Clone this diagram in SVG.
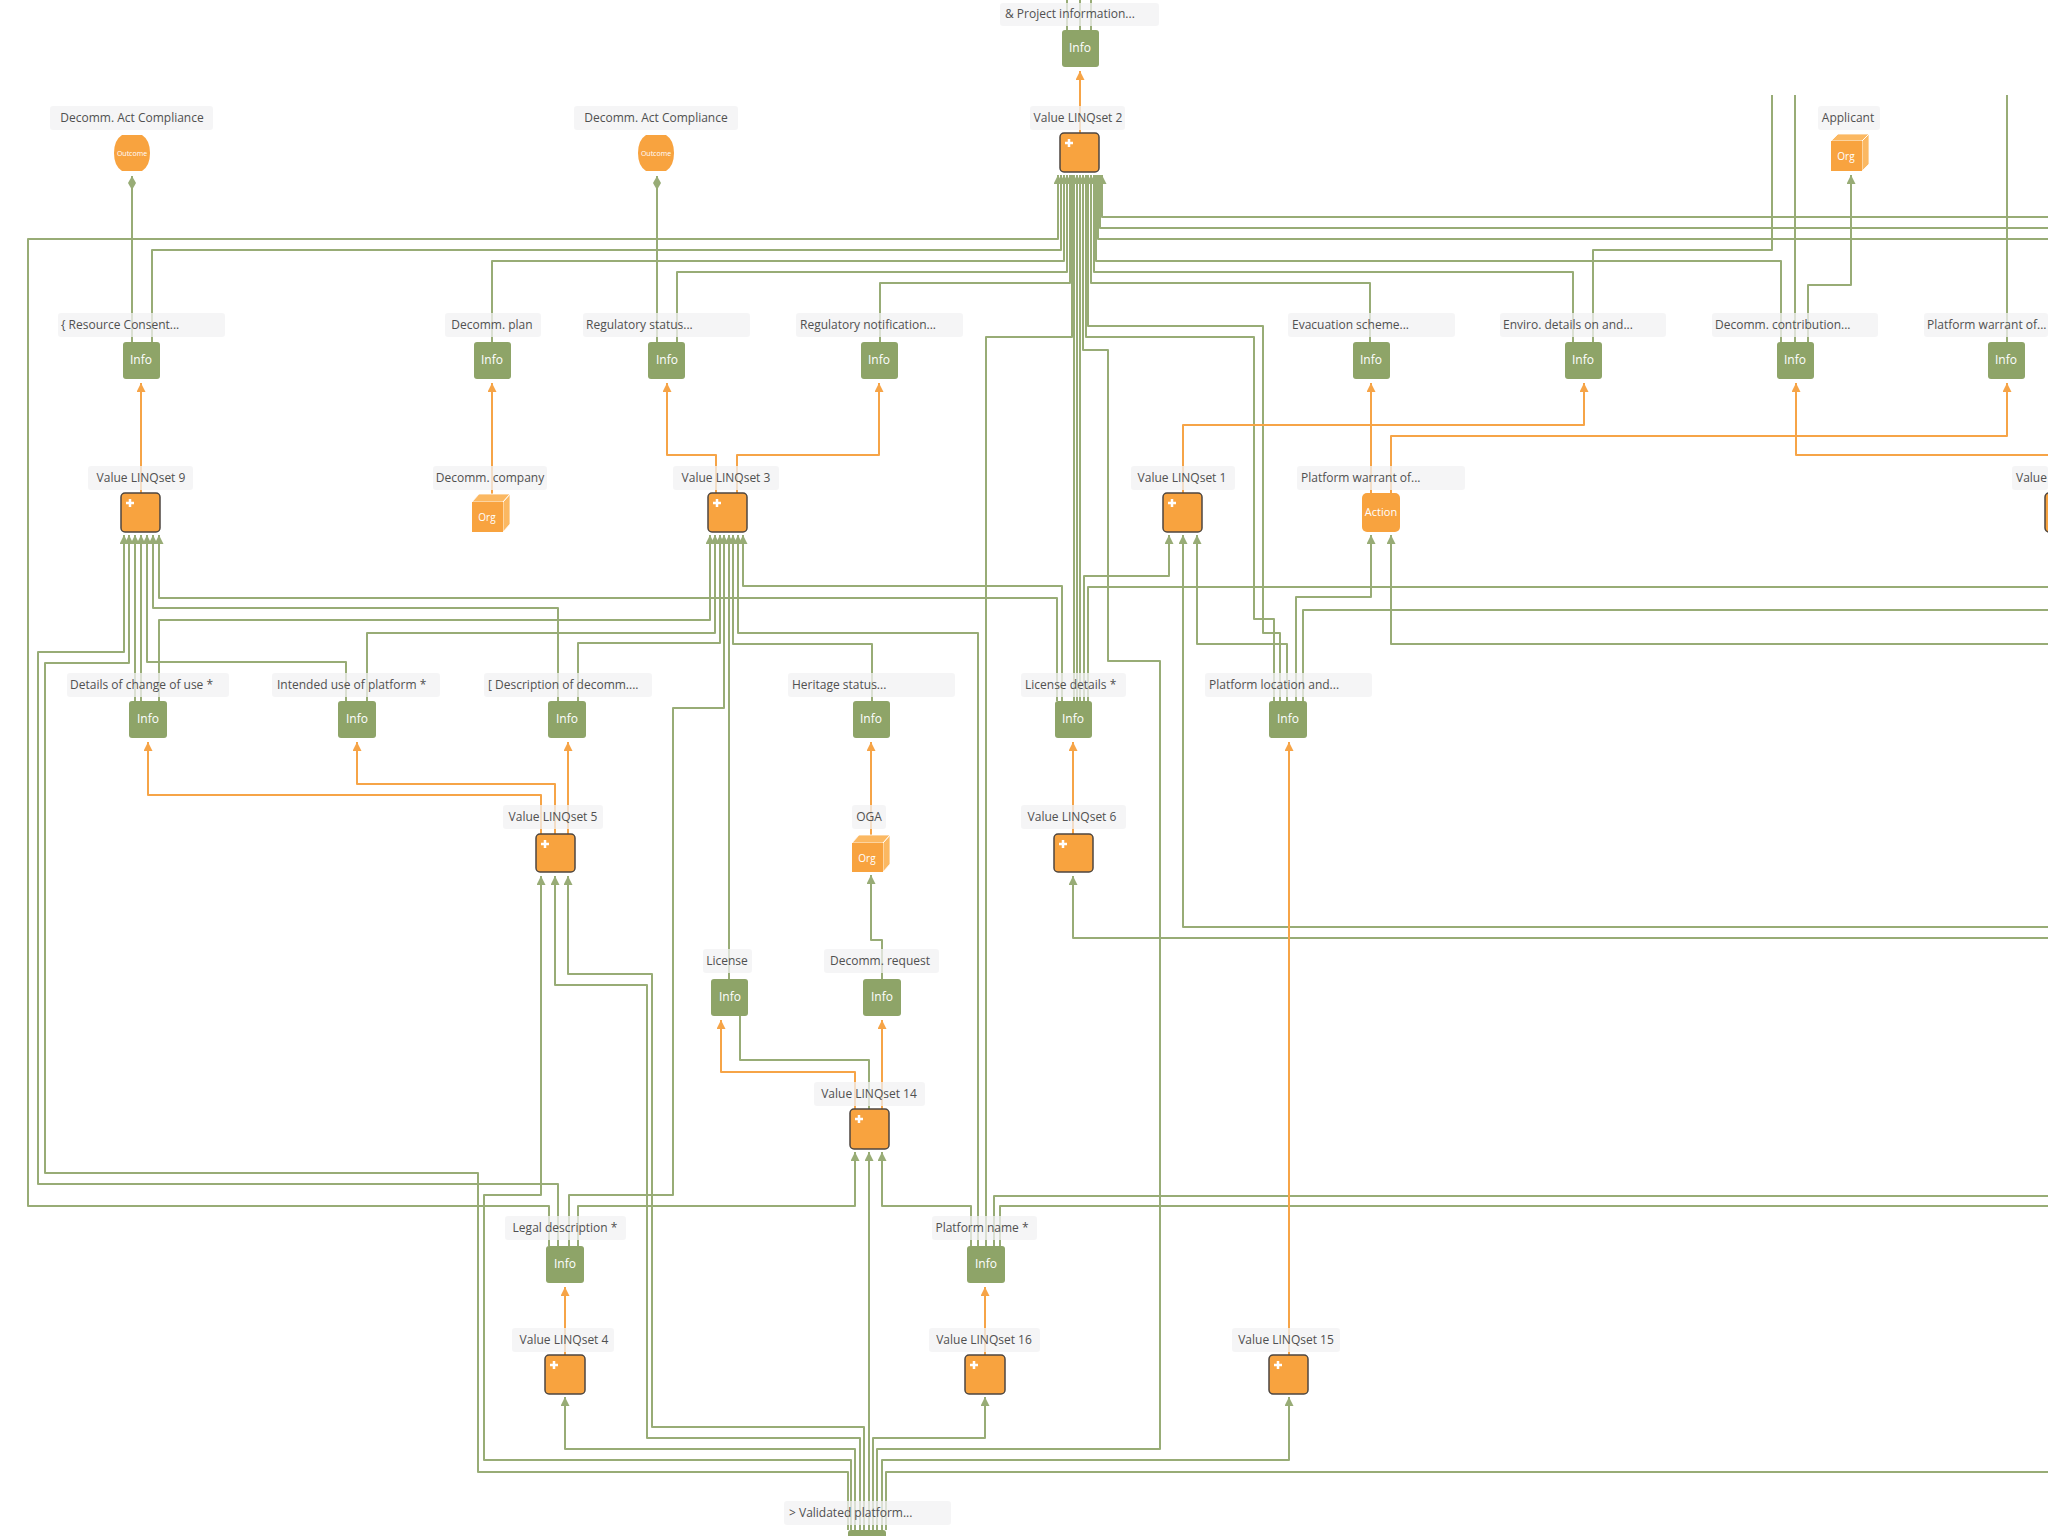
<svg xmlns="http://www.w3.org/2000/svg" width="2048" height="1536" viewBox="0 0 2048 1536">
<defs>
<style>
.g{fill:none;stroke:#98ac76;stroke-width:2;stroke-linejoin:round}
.ga{marker-end:url(#ag)}
.o{fill:none;stroke:#f6a447;stroke-width:2;stroke-linejoin:round;marker-end:url(#ao)}
.gd{marker-end:url(#ad)}
.lb{fill:#f2f2f3;opacity:0.75}
.lt{font-family:"Open Sans","Liberation Sans",sans-serif;font-size:12px;fill:#505050}
.m{text-anchor:middle}
.info{fill:#8ea468}
.it{font-family:"Open Sans","Liberation Sans",sans-serif;font-size:12px;fill:#ffffff;text-anchor:middle}
.lq{fill:#f8a33f;stroke:#4d4640;stroke-width:1.5}
.pl{stroke:#ffffff;stroke-width:2.5;fill:none}
.of{fill:#f8a33f}
.ot{fill:#fbb862;stroke:#ffffff;stroke-width:0.8}
.sm{font-family:"Open Sans","Liberation Sans",sans-serif;fill:#ffffff;text-anchor:middle}
</style>
<marker id="ag" viewBox="0 0 10 10" refX="10" refY="5" markerWidth="9" markerHeight="9" markerUnits="userSpaceOnUse" orient="auto"><path d="M0,0 L10,5 L0,10 z" fill="#98ac76"/></marker>
<marker id="ao" viewBox="0 0 10 10" refX="10" refY="5" markerWidth="9" markerHeight="9" markerUnits="userSpaceOnUse" orient="auto"><path d="M0,0 L10,5 L0,10 z" fill="#f6a447"/></marker>
<marker id="ad" viewBox="0 0 14 8" refX="14" refY="4" markerWidth="14" markerHeight="8" markerUnits="userSpaceOnUse" orient="auto"><path d="M0,4 L7,0 L14,4 L7,8 z" fill="#98ac76"/></marker>
</defs>
<rect width="2048" height="1536" fill="#ffffff"/>

<g id="connectors">
<!-- into Value LINQset 2 -->
<path class="g ga" d="M549,1246 V1206 H28 V239 H1058 V175"/>
<path class="g ga" d="M152,342 V250 H1061 V175"/>
<path class="g ga" d="M492,342 V261 H1064 V175"/>
<path class="g ga" d="M677,342 V272 H1067 V175"/>
<path class="g ga" d="M880,342 V283 H1070 V175"/>
<path class="g ga" d="M986,1246 V337 H1072 V175"/>
<path class="g ga" d="M1074,701 V175"/>
<path class="g ga" d="M1077,701 V175"/>
<path class="g ga" d="M1080,701 V175"/>
<path class="g ga" d="M877,1530 V1449 H1160 V661 H1108 V350 H1083 V175"/>
<path class="g ga" d="M1274,701 V619 H1254 V337 H1086 V175"/>
<path class="g ga" d="M1280,701 V633 H1263 V326 H1088 V175"/>
<path class="g ga" d="M1370,342 V283 H1091 V175"/>
<path class="g ga" d="M1573,342 V272 H1094 V175"/>
<path class="g ga" d="M1781,342 V261 H1096 V175"/>
<path class="g ga" d="M2048,239 H1098 V175"/>
<path class="g ga" d="M2048,228 H1100 V175"/>
<path class="g ga" d="M2048,217 H1102 V175"/>
<!-- into Value LINQset 9 -->
<path class="g ga" d="M558,1246 V1184 H38 V652 H124 V535"/>
<path class="g ga" d="M848,1530 V1472 H478 V1173 H45 V663 H129 V535"/>
<path class="g ga" d="M135,701 V535"/>
<path class="g ga" d="M141,701 V535"/>
<path class="g ga" d="M346,701 V662 H147 V535"/>
<path class="g ga" d="M558,701 V608 H153 V535"/>
<path class="g ga" d="M1057,701 V598 H159 V535"/>
<!-- into Value LINQset 3 -->
<path class="g ga" d="M159,701 V620 H710 V535"/>
<path class="g ga" d="M367,701 V633 H715 V535"/>
<path class="g ga" d="M578,701 V643 H720 V535"/>
<path class="g ga" d="M569,1246 V1195 H673 V708 H724 V535"/>
<path class="g ga" d="M729,979 V535"/>
<path class="g ga" d="M872,701 V644 H733 V535"/>
<path class="g ga" d="M978,1246 V633 H738 V535"/>
<path class="g ga" d="M1062,701 V586 H743 V535"/>
<!-- into Value LINQset 5 -->
<path class="g ga" d="M851,1530 V1460 H484 V1195 H541 V876"/>
<path class="g ga" d="M860,1530 V1438 H647 V985 H555 V876"/>
<path class="g ga" d="M864,1530 V1427 H652 V974 H568 V876"/>
<!-- into Value LINQset 14 -->
<path class="g ga" d="M578,1246 V1206 H855 V1152"/>
<path class="g ga" d="M869,1530 V1152"/>
<path class="g ga" d="M971,1246 V1206 H882 V1152"/>
<path class="g" d="M740,1016 V1060 H869 V1109"/>
<!-- into Value LINQset 4 / 16 / 15 -->
<path class="g ga" d="M855,1530 V1449 H565 V1397"/>
<path class="g ga" d="M873,1530 V1438 H985 V1397"/>
<path class="g ga" d="M882,1530 V1460 H1289 V1397"/>
<!-- into Value LINQset 6 / 1 / Action -->
<path class="g ga" d="M2048,938 H1073 V876"/>
<path class="g ga" d="M1084,701 V576 H1169 V535"/>
<path class="g ga" d="M2048,927 H1183 V535"/>
<path class="g ga" d="M1287,701 V644 H1197 V535"/>
<path class="g ga" d="M1296,701 V597 H1371 V535"/>
<path class="g ga" d="M2048,644 H1391 V535"/>
<!-- into OGA / Applicant -->
<path class="g ga" d="M882,979 V940 H871 V875"/>
<path class="g ga" d="M1808,342 V285 H1851 V175"/>
<!-- leaving the picture -->
<path class="g" d="M1088,701 V587 H2048"/>
<path class="g" d="M1303,701 V610 H2048"/>
<path class="g" d="M994,1246 V1196 H2048"/>
<path class="g" d="M1000,1246 V1206 H2048"/>
<path class="g" d="M886,1530 V1472 H2048"/>
<path class="g" d="M1067,0 V30 M1080,0 V30 M1091,0 V30"/>
<path class="g" d="M1772,95 V250 H1593 V342"/>
<path class="g" d="M1795,95 V342"/>
<path class="g" d="M2007,95 V342"/>
<!-- to outcomes -->
<path class="g gd" d="M132,342 V176"/>
<path class="g gd" d="M657,342 V176"/>
<!-- value links (orange) -->
<path class="o" d="M1080,133 V71"/>
<path class="o" d="M141,493 V383"/>
<path class="o" d="M492,496 V383"/>
<path class="o" d="M716,493 V455 H667 V383"/>
<path class="o" d="M737,493 V455 H879 V383"/>
<path class="o" d="M1183,493 V425 H1584 V383"/>
<path class="o" d="M1371,493 V383"/>
<path class="o" d="M1391,493 V436 H2007 V383"/>
<path class="o" d="M2048,455 H1796 V383"/>
<path class="o" d="M541,834 V795 H148 V742"/>
<path class="o" d="M555,834 V784 H357 V742"/>
<path class="o" d="M568,834 V742"/>
<path class="o" d="M871,838 V742"/>
<path class="o" d="M1073,834 V742"/>
<path class="o" d="M1289,1355 V742"/>
<path class="o" d="M855,1109 V1072 H721 V1020"/>
<path class="o" d="M882,1109 V1020"/>
<path class="o" d="M565,1355 V1287"/>
<path class="o" d="M985,1355 V1287"/>
</g>

<g id="n-project-information">
<rect class="lb" x="1000" y="3" width="159" height="23" rx="3"/>
<text class="lt" x="1005" y="18">&amp; Project information...</text>
<rect class="info" x="1062" y="30" width="37" height="37" rx="3"/>
<text class="it" x="1080" y="52">Info</text>
</g>
<g id="n-value-linqset-2">
<rect class="lb" x="1030" y="106" width="95" height="24" rx="3"/>
<text class="lt m" x="1078" y="122">Value LINQset 2</text>
<rect class="lq" x="1060" y="133" width="39" height="39" rx="4"/>
<path class="pl" d="M1069,139 v8 M1065,143 h8"/>
</g>
<g id="n-outcome-1">
<rect class="lb" x="50" y="106" width="163" height="24" rx="3"/>
<text class="lt m" x="132" y="122">Decomm. Act Compliance</text>
<path class="of" d="M122,135 H142 Q150,140 150,153 Q150,166 142,171 H122 Q114,166 114,153 Q114,140 122,135 Z"/>
<text class="sm" x="132" y="156" font-size="7">Outcome</text>
</g>
<g id="n-outcome-2">
<rect class="lb" x="574" y="106" width="164" height="24" rx="3"/>
<text class="lt m" x="656" y="122">Decomm. Act Compliance</text>
<path class="of" d="M646,135 H666 Q674,140 674,153 Q674,166 666,171 H646 Q638,166 638,153 Q638,140 646,135 Z"/>
<text class="sm" x="656" y="156" font-size="7">Outcome</text>
</g>
<g id="n-applicant">
<rect class="lb" x="1818" y="106" width="62" height="24" rx="3"/>
<text class="lt m" x="1848" y="122">Applicant</text>
<path class="ot" d="M1831,141 L1838,134 L1869,134 L1862,141 Z M1862,141 L1869,134 L1869,164 L1862,171 Z"/>
<rect class="of" x="1831" y="141" width="31" height="30"/>
<text class="sm" x="1846" y="160" font-size="10">Org</text>
</g>

<g id="n-resource-consent">
<rect class="lb" x="58" y="313" width="167" height="24" rx="3"/>
<text class="lt" x="61" y="329">{ Resource Consent...</text>
<rect class="info" x="123" y="342" width="37" height="37" rx="3"/>
<text class="it" x="141" y="364">Info</text>
</g>
<g id="n-decomm-plan">
<rect class="lb" x="445" y="313" width="96" height="24" rx="3"/>
<text class="lt m" x="492" y="329">Decomm. plan</text>
<rect class="info" x="474" y="342" width="37" height="37" rx="3"/>
<text class="it" x="492" y="364">Info</text>
</g>
<g id="n-regulatory-status">
<rect class="lb" x="583" y="313" width="167" height="24" rx="3"/>
<text class="lt" x="586" y="329">Regulatory status...</text>
<rect class="info" x="648" y="342" width="37" height="37" rx="3"/>
<text class="it" x="667" y="364">Info</text>
</g>
<g id="n-regulatory-notification">
<rect class="lb" x="796" y="313" width="167" height="24" rx="3"/>
<text class="lt" x="800" y="329">Regulatory notification...</text>
<rect class="info" x="861" y="342" width="37" height="37" rx="3"/>
<text class="it" x="879" y="364">Info</text>
</g>
<g id="n-evacuation-scheme">
<rect class="lb" x="1288" y="313" width="167" height="24" rx="3"/>
<text class="lt" x="1292" y="329">Evacuation scheme...</text>
<rect class="info" x="1353" y="342" width="37" height="37" rx="3"/>
<text class="it" x="1371" y="364">Info</text>
</g>
<g id="n-enviro-details">
<rect class="lb" x="1500" y="313" width="166" height="24" rx="3"/>
<text class="lt" x="1503" y="329">Enviro. details on and...</text>
<rect class="info" x="1565" y="342" width="37" height="37" rx="3"/>
<text class="it" x="1583" y="364">Info</text>
</g>
<g id="n-decomm-contribution">
<rect class="lb" x="1712" y="313" width="166" height="24" rx="3"/>
<text class="lt" x="1715" y="329">Decomm. contribution...</text>
<rect class="info" x="1777" y="342" width="37" height="37" rx="3"/>
<text class="it" x="1795" y="364">Info</text>
</g>
<g id="n-platform-warrant-info">
<rect class="lb" x="1924" y="313" width="124" height="24" rx="3"/>
<text class="lt" x="1927" y="329">Platform warrant of...</text>
<rect class="info" x="1988" y="342" width="37" height="37" rx="3"/>
<text class="it" x="2006" y="364">Info</text>
</g>

<g id="n-value-linqset-9">
<rect class="lb" x="88" y="466" width="105" height="24" rx="3"/>
<text class="lt m" x="141" y="482">Value LINQset 9</text>
<rect class="lq" x="121" y="493" width="39" height="39" rx="4"/>
<path class="pl" d="M130,499 v8 M126,503 h8"/>
</g>
<g id="n-decomm-company">
<rect class="lb" x="433" y="466" width="114" height="24" rx="3"/>
<text class="lt m" x="490" y="482">Decomm. company</text>
<path class="ot" d="M472,502 L479,494 L510,494 L503,502 Z M503,502 L510,494 L510,524 L503,532 Z"/>
<rect class="of" x="472" y="502" width="31" height="30"/>
<text class="sm" x="487" y="521" font-size="10">Org</text>
</g>
<g id="n-value-linqset-3">
<rect class="lb" x="673" y="466" width="106" height="24" rx="3"/>
<text class="lt m" x="726" y="482">Value LINQset 3</text>
<rect class="lq" x="708" y="493" width="39" height="39" rx="4"/>
<path class="pl" d="M717,499 v8 M713,503 h8"/>
</g>
<g id="n-value-linqset-1">
<rect class="lb" x="1131" y="466" width="104" height="24" rx="3"/>
<text class="lt m" x="1182" y="482">Value LINQset 1</text>
<rect class="lq" x="1163" y="493" width="39" height="39" rx="4"/>
<path class="pl" d="M1172,499 v8 M1168,503 h8"/>
</g>
<g id="n-platform-warrant-action">
<rect class="lb" x="1297" y="466" width="168" height="24" rx="3"/>
<text class="lt" x="1301" y="482">Platform warrant of...</text>
<rect class="of" x="1362" y="493" width="38" height="39" rx="5"/>
<text class="sm" x="1381" y="516" font-size="11">Action</text>
</g>
<g id="n-value-right">
<rect class="lb" x="2012" y="466" width="36" height="24" rx="3"/>
<text class="lt" x="2016" y="482">Value</text>
<rect class="lq" x="2045" y="493" width="39" height="39" rx="4"/>
</g>

<g id="n-details-change-of-use">
<rect class="lb" x="67" y="673" width="162" height="24" rx="3"/>
<text class="lt" x="70" y="689">Details of change of use *</text>
<rect class="info" x="129" y="701" width="38" height="37" rx="3"/>
<text class="it" x="148" y="723">Info</text>
</g>
<g id="n-intended-use">
<rect class="lb" x="272" y="673" width="168" height="24" rx="3"/>
<text class="lt" x="277" y="689">Intended use of platform *</text>
<rect class="info" x="338" y="701" width="38" height="37" rx="3"/>
<text class="it" x="357" y="723">Info</text>
</g>
<g id="n-description-decomm">
<rect class="lb" x="484" y="673" width="168" height="24" rx="3"/>
<text class="lt" x="488" y="689">[ Description of decomm....</text>
<rect class="info" x="548" y="701" width="38" height="37" rx="3"/>
<text class="it" x="567" y="723">Info</text>
</g>
<g id="n-heritage-status">
<rect class="lb" x="788" y="673" width="167" height="24" rx="3"/>
<text class="lt" x="792" y="689">Heritage status...</text>
<rect class="info" x="853" y="701" width="37" height="37" rx="3"/>
<text class="it" x="871" y="723">Info</text>
</g>
<g id="n-license-details">
<rect class="lb" x="1021" y="673" width="105" height="24" rx="3"/>
<text class="lt" x="1025" y="689">License details *</text>
<rect class="info" x="1055" y="701" width="37" height="37" rx="3"/>
<text class="it" x="1073" y="723">Info</text>
</g>
<g id="n-platform-location">
<rect class="lb" x="1205" y="673" width="167" height="24" rx="3"/>
<text class="lt" x="1209" y="689">Platform location and...</text>
<rect class="info" x="1269" y="701" width="38" height="37" rx="3"/>
<text class="it" x="1288" y="723">Info</text>
</g>

<g id="n-value-linqset-5">
<rect class="lb" x="503" y="805" width="100" height="24" rx="3"/>
<text class="lt m" x="553" y="821">Value LINQset 5</text>
<rect class="lq" x="536" y="834" width="39" height="38" rx="4"/>
<path class="pl" d="M545,840 v8 M541,844 h8"/>
</g>
<g id="n-oga">
<rect class="lb" x="852" y="805" width="34" height="24" rx="3"/>
<text class="lt m" x="869" y="821">OGA</text>
<path class="ot" d="M852,843 L859,835 L890,835 L883,843 Z M883,843 L890,835 L890,864 L883,872 Z"/>
<rect class="of" x="852" y="843" width="31" height="29"/>
<text class="sm" x="867" y="862" font-size="10">Org</text>
</g>
<g id="n-value-linqset-6">
<rect class="lb" x="1021" y="805" width="105" height="24" rx="3"/>
<text class="lt m" x="1072" y="821">Value LINQset 6</text>
<rect class="lq" x="1054" y="834" width="39" height="38" rx="4"/>
<path class="pl" d="M1063,840 v8 M1059,844 h8"/>
</g>

<g id="n-license">
<rect class="lb" x="703" y="949" width="49" height="24" rx="3"/>
<text class="lt m" x="727" y="965">License</text>
<rect class="info" x="711" y="979" width="37" height="37" rx="3"/>
<text class="it" x="730" y="1001">Info</text>
</g>
<g id="n-decomm-request">
<rect class="lb" x="824" y="949" width="115" height="24" rx="3"/>
<text class="lt m" x="880" y="965">Decomm. request</text>
<rect class="info" x="863" y="979" width="38" height="37" rx="3"/>
<text class="it" x="882" y="1001">Info</text>
</g>
<g id="n-value-linqset-14">
<rect class="lb" x="814" y="1082" width="111" height="24" rx="3"/>
<text class="lt m" x="869" y="1098">Value LINQset 14</text>
<rect class="lq" x="850" y="1109" width="39" height="40" rx="4"/>
<path class="pl" d="M859,1115 v8 M855,1119 h8"/>
</g>

<g id="n-legal-description">
<rect class="lb" x="505" y="1216" width="121" height="24" rx="3"/>
<text class="lt m" x="565" y="1232">Legal description *</text>
<rect class="info" x="546" y="1246" width="38" height="37" rx="3"/>
<text class="it" x="565" y="1268">Info</text>
</g>
<g id="n-platform-name">
<rect class="lb" x="932" y="1216" width="105" height="24" rx="3"/>
<text class="lt m" x="982" y="1232">Platform name *</text>
<rect class="info" x="967" y="1246" width="38" height="37" rx="3"/>
<text class="it" x="986" y="1268">Info</text>
</g>
<g id="n-value-linqset-4">
<rect class="lb" x="512" y="1328" width="102" height="24" rx="3"/>
<text class="lt m" x="564" y="1344">Value LINQset 4</text>
<rect class="lq" x="545" y="1355" width="40" height="39" rx="4"/>
<path class="pl" d="M554,1361 v8 M550,1365 h8"/>
</g>
<g id="n-value-linqset-16">
<rect class="lb" x="929" y="1328" width="111" height="24" rx="3"/>
<text class="lt m" x="984" y="1344">Value LINQset 16</text>
<rect class="lq" x="965" y="1355" width="40" height="39" rx="4"/>
<path class="pl" d="M974,1361 v8 M970,1365 h8"/>
</g>
<g id="n-value-linqset-15">
<rect class="lb" x="1232" y="1328" width="108" height="24" rx="3"/>
<text class="lt m" x="1286" y="1344">Value LINQset 15</text>
<rect class="lq" x="1269" y="1355" width="39" height="39" rx="4"/>
<path class="pl" d="M1278,1361 v8 M1274,1365 h8"/>
</g>
<g id="n-validated-platform">
<rect class="lb" x="784" y="1501" width="167" height="24" rx="3"/>
<text class="lt" x="789" y="1517">&gt; Validated platform...</text>
<rect class="info" x="848" y="1530" width="38" height="37" rx="3"/>
</g>
</svg>
